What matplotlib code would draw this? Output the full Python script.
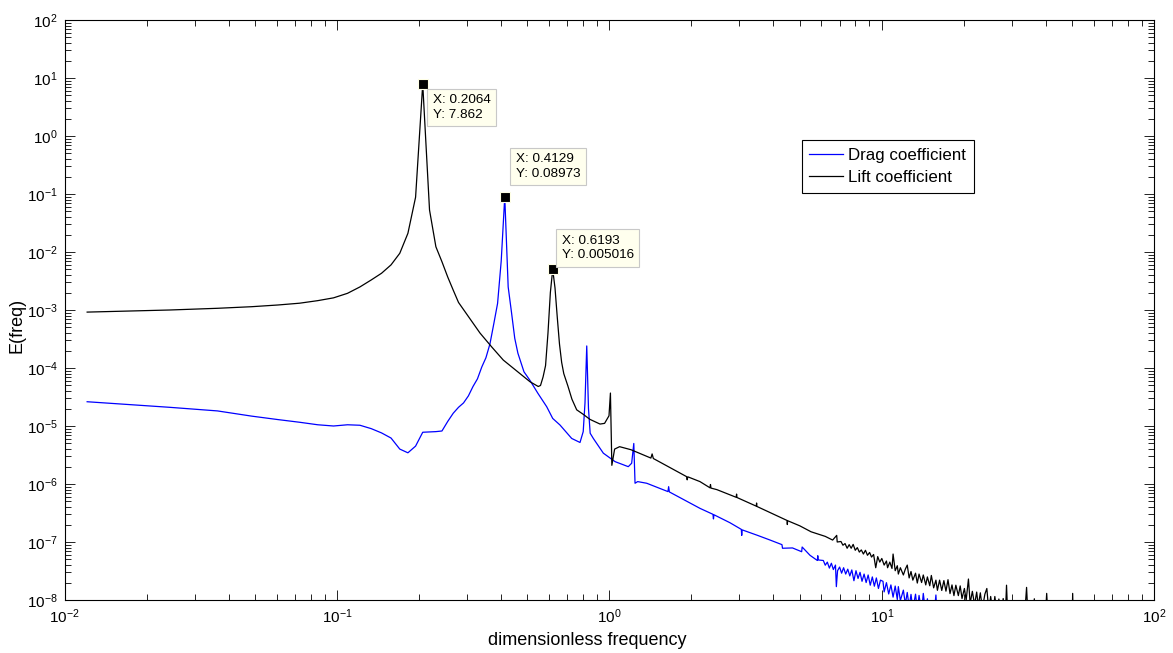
import matplotlib
matplotlib.use('Agg')
import matplotlib.pyplot as plt
from matplotlib.ticker import FixedLocator, NullFormatter, LogFormatterSciNotation

plt.rcParams['font.family'] = ['Liberation Sans', 'DejaVu Sans']
plt.rcParams['mathtext.default'] = 'regular'
plt.rcParams['axes.unicode_minus'] = False

# lift coefficient spectrum (black)
lift_freq = [0.0121, 0.0243, 0.0364, 0.0486, 0.0607, 0.0729, 0.0850, 0.0971, 0.1093, 0.1214,
             0.1336, 0.1457, 0.1579, 0.1700, 0.1821, 0.1943, 0.2064, 0.2186, 0.2307, 0.2428,
             0.2550, 0.2671, 0.2793, 0.3036, 0.3350, 0.3700, 0.4078, 0.4500, 0.5110, 0.5480,
             0.5586, 0.5708, 0.5829, 0.5950, 0.6071, 0.6193, 0.6314, 0.6436, 0.6557, 0.6679,
             0.6800, 0.7040, 0.7285, 0.7585, 0.8000, 0.8487, 0.9237, 0.9600, 0.9966, 1.0087,
             1.0209, 1.0451, 1.0900, 1.2000, 1.4200, 1.4350, 1.4500, 1.9200, 1.9300, 1.9400,
             2.1500, 2.3400, 2.3500, 2.3600, 2.4800, 2.9200, 2.9300, 2.9400, 3.4600, 3.4700,
             3.4800, 4.4900, 4.5000, 4.5100, 5.0000, 5.5000, 6.2000, 6.6000, 6.8300, 6.8600,
             7.08, 7.20, 7.33, 7.46, 7.59, 7.72, 7.85, 7.99, 8.13, 8.27,
             8.41, 8.56, 8.71, 8.86, 9.02, 9.17, 9.33, 9.50, 9.66, 9.83,
             10.0, 10.2, 10.4, 10.5, 10.7, 10.9, 11.0, 11.2, 11.4, 11.5,
             11.7, 12.0, 12.2, 12.4, 12.6, 12.8, 13.0, 13.3, 13.5, 13.7,
             14.0, 14.2, 14.5, 14.7, 15.0, 15.2, 15.5, 15.8, 16.0, 16.3,
             16.6, 16.9, 17.2, 17.5, 17.8, 18.1, 18.4, 18.7, 19.1, 19.4,
             19.7, 20.1, 20.4, 20.8, 21.1, 21.5, 21.9, 22.3, 22.6, 23.0,
             23.4, 23.9, 24.3, 24.7, 25.1, 25.6, 26.0, 26.5, 26.9, 27.4,
             27.9, 28.4, 28.7, 29.0, 29.5, 30.0, 30.5, 31.1, 31.6, 32.2,
             32.7, 33.3, 34.0, 34.5, 35.1, 35.7, 36.3, 36.9, 37.6, 38.2,
             38.9, 39.6, 40.3, 41.0, 45.0, 49.8, 50.2, 50.6, 60.0]
lift_E = [9.2e-4, 1.0e-3, 1.07e-3, 1.14e-3, 1.22e-3, 1.31e-3, 1.45e-3, 1.62e-3, 1.94e-3, 2.5e-3,
          3.3e-3, 4.3e-3, 6.0e-3, 9.5e-3, 0.021, 0.088, 7.862, 0.053, 0.0123, 6.8e-3,
          3.7e-3, 2.2e-3, 1.35e-3, 7.7e-4, 4.0e-4, 2.3e-4, 1.37e-4, 9.4e-5, 5.8e-5, 4.8e-5,
          5.0e-5, 7.0e-5, 1.1e-4, 4.0e-4, 2.0e-3, 5.016e-3, 2.4e-3, 7.5e-4, 2.6e-4, 1.25e-4,
          8.0e-5, 4.9e-5, 2.9e-5, 1.9e-5, 1.6e-5, 1.3e-5, 1.08e-5, 1.11e-5, 1.5e-5, 3.7e-5,
          2.1e-6, 4.0e-6, 4.4e-6, 3.9e-6, 2.8e-6, 3.3e-6, 2.75e-6, 1.34e-6, 1.18e-6, 1.33e-6,
          1.10e-6, 8.6e-7, 9.8e-7, 8.5e-7, 8.0e-7, 5.9e-7, 6.7e-7, 5.85e-7, 4.15e-7, 4.7e-7,
          4.1e-7, 2.35e-7, 2.0e-7, 2.33e-7, 1.9e-7, 1.5e-7, 1.25e-7, 1.08e-7, 1.3e-7, 1.0e-7,
          1.02e-7, 8.8e-8, 9.4e-8, 7.8e-8, 9.0e-8, 7.8e-8, 9.1e-8, 7.2e-8, 8.0e-8, 6.7e-8,
          7.3e-8, 6.2e-8, 7.2e-8, 5.9e-8, 6.6e-8, 5.5e-8, 6.1e-8, 3.6e-8, 5.6e-8, 4.5e-8,
          5.2e-8, 4.0e-8, 4.7e-8, 3.6e-8, 4.5e-8, 3.5e-8, 6.2e-8, 3.2e-8, 3.9e-8, 2.8e-8,
          3.6e-8, 2.7e-8, 3.4e-8, 4.0e-8, 2.4e-8, 3.1e-8, 2.2e-8, 2.9e-8, 1.96e-8, 2.8e-8,
          2.0e-8, 2.7e-8, 1.82e-8, 2.5e-8, 1.76e-8, 2.65e-8, 1.62e-8, 2.2e-8, 1.47e-8, 2.2e-8,
          1.46e-8, 2.16e-8, 1.42e-8, 2.24e-8, 1.29e-8, 1.82e-8, 1.19e-8, 1.80e-8, 1.19e-8, 1.75e-8,
          1.06e-8, 1.58e-8, 9.9e-9, 2.3e-8, 8.8e-9, 1.41e-8, 8.3e-9, 1.37e-8, 7.9e-9, 1.33e-8,
          7.1e-9, 1.26e-8, 1.58e-8, 6.5e-9, 1.15e-8, 6.0e-9, 1.15e-8, 5.6e-9, 1.04e-8, 5.5e-9,
          1.06e-8, 5.1e-9, 1.8e-8, 5.1e-9, 9.6e-9, 4.7e-9, 9.4e-9, 4.5e-9, 9.1e-9, 4.4e-9,
          8.7e-9, 4.1e-9, 1.65e-8, 3.9e-9, 7.8e-9, 3.7e-9, 1.05e-8, 3.5e-9, 7.0e-9, 3.3e-9,
          6.8e-9, 3.2e-9, 1.3e-8, 3.0e-9, 2.0e-9, 2.0e-9, 1.3e-8, 2.0e-9, 2.0e-9]

# drag coefficient spectrum (blue)
drag_freq = [0.0121, 0.0243, 0.0364, 0.0486, 0.0607, 0.0729, 0.0850, 0.0971, 0.1093, 0.1214,
             0.1336, 0.1457, 0.1579, 0.1700, 0.1821, 0.1943, 0.2064, 0.2186, 0.2307, 0.2428,
             0.2550, 0.2671, 0.2793, 0.2914, 0.3036, 0.3157, 0.3278, 0.3400, 0.3521, 0.3643,
             0.3764, 0.3886, 0.4007, 0.4129, 0.4250, 0.4371, 0.4493, 0.4614, 0.4857, 0.5100,
             0.5464, 0.5886, 0.6193, 0.6586, 0.7271, 0.7800, 0.8014, 0.8136, 0.8257, 0.8379,
             0.8500, 0.8730, 0.9500, 1.0490, 1.1730, 1.2070, 1.2290, 1.2420, 1.2700, 1.3710,
             1.6400, 1.6500, 1.6600, 1.8430, 2.1510, 2.4000, 2.4100, 2.4200, 2.7700, 3.0500,
             3.0600, 3.0700, 3.5000, 3.8900, 4.3000, 4.3200, 4.7000, 5.0800, 5.1000, 5.4500,
             5.8000, 5.8200, 5.8400,
             6.10, 6.20, 6.31, 6.42, 6.53, 6.64, 6.76, 6.81, 6.88, 7.00,
             7.12, 7.24, 7.37, 7.50, 7.63, 7.76, 7.90, 8.04, 8.18, 8.32,
             8.46, 8.61, 8.76, 8.91, 9.07, 9.23, 9.39, 9.55, 9.72, 9.89,
             10.1, 10.2, 10.4, 10.6, 10.8, 11.0, 11.2, 11.4, 11.5, 11.7,
             12.0, 12.2, 12.4, 12.6, 12.8, 13.0, 13.3, 13.5, 13.7, 14.0,
             14.2, 14.5, 14.7, 15.0, 15.2, 15.5, 15.8, 16.0, 16.3, 16.6,
             17.0, 18.0, 20.0, 40.0]
drag_E = [2.62e-5, 2.1e-5, 1.82e-5, 1.48e-5, 1.29e-5, 1.16e-5, 1.05e-5, 1.0e-5, 1.05e-5, 1.03e-5,
          9.0e-6, 7.6e-6, 6.2e-6, 4.0e-6, 3.45e-6, 4.5e-6, 7.8e-6, 7.9e-6, 8.0e-6, 8.2e-6,
          1.2e-5, 1.66e-5, 2.1e-5, 2.5e-5, 3.3e-5, 4.8e-5, 6.5e-5, 1.04e-4, 1.5e-4, 2.6e-4,
          5.8e-4, 1.3e-3, 7.0e-3, 8.973e-2, 2.5e-3, 9.1e-4, 3.25e-4, 1.8e-4, 8.6e-5, 6.2e-5,
          3.66e-5, 2.15e-5, 1.35e-5, 1.04e-5, 6.1e-6, 5.2e-6, 8.0e-6, 2.5e-5, 2.4e-4, 2.0e-5,
          7.5e-6, 6.1e-6, 3.4e-6, 2.43e-6, 1.99e-6, 2.28e-6, 5.0e-6, 1.03e-6, 1.1e-6, 1.03e-6,
          7.4e-7, 9.0e-7, 7.3e-7, 5.6e-7, 3.8e-7, 3.0e-7, 2.5e-7, 2.95e-7, 2.15e-7, 1.65e-7,
          1.3e-7, 1.62e-7, 1.3e-7, 1.08e-7, 9.0e-8, 7.8e-8, 7.9e-8, 6.8e-8, 8.2e-8, 5.9e-8,
          4.8e-8, 5.8e-8, 4.9e-8,
          4.8e-8, 3.98e-8, 4.5e-8, 3.55e-8, 4.3e-8, 3.35e-8, 4.0e-8, 1.7e-8, 3.2e-8, 3.7e-8,
          2.9e-8, 3.6e-8, 2.8e-8, 3.4e-8, 2.6e-8, 3.3e-8, 2.15e-8, 3.2e-8, 2.35e-8, 3.0e-8,
          2.1e-8, 2.8e-8, 2.0e-8, 2.7e-8, 1.8e-8, 2.5e-8, 1.73e-8, 2.4e-8, 1.58e-8, 2.2e-8,
          2.1e-8, 1.38e-8, 1.99e-8, 1.27e-8, 1.82e-8, 1.12e-8, 1.74e-8, 1.02e-8, 1.7e-8, 9.8e-9,
          1.48e-8, 8.5e-9, 1.35e-8, 7.6e-9, 1.25e-8, 7.0e-9, 1.26e-8, 6.6e-9, 1.2e-8, 6.3e-9,
          1.3e-8, 5.8e-9, 1.05e-8, 5.0e-9, 9.5e-9, 4.8e-9, 1.22e-8, 4.5e-9, 8.5e-9, 4.2e-9,
          7.5e-9, 3.5e-9, 3.0e-9, 1.0e-9]

# data tips
tip_x = [0.2064, 0.4129, 0.6193]
tip_y = [7.862, 0.08973, 0.005016]
tip_offsets = [(10, -10), (11, 17), (9, 8)]   # pixels
tip_va = ['top', 'bottom', 'bottom']

x_decades = [1e-2, 1e-1, 1e0, 1e1, 1e2]
y_decades = [1e-8, 1e-7, 1e-6, 1e-5, 1e-4, 1e-3, 1e-2, 1e-1, 1e0, 1e1, 1e2]

fig = plt.figure(figsize=(11.73, 6.53), dpi=100)
ax = fig.add_axes([64.6 / 1173, 53 / 653, 1089.6 / 1173, 580 / 653])

ax.loglog(drag_freq, drag_E, color='#0000FF', lw=0.9, label='Drag coefficient')
ax.loglog(lift_freq, lift_E, color='black', lw=0.9, label='Lift coefficient')

ax.set_xlim(1e-2, 1e2)
ax.set_ylim(1e-8, 1e2)

for axis, dec in [(ax.xaxis, x_decades), (ax.yaxis, y_decades)]:
    axis.set_major_locator(FixedLocator(dec))
    axis.set_major_formatter(LogFormatterSciNotation())
    axis.set_minor_locator(FixedLocator([d * k for d in dec[:-1] for k in range(2, 10)]))
    axis.set_minor_formatter(NullFormatter())
ax.tick_params(which='both', direction='in', top=True, right=True, labelsize=11, width=0.6)
ax.tick_params(which='major', length=7, pad=5)
ax.tick_params(which='minor', length=4)
for s in ax.spines.values():
    s.set_linewidth(0.8)

ax.set_xlabel('dimensionless frequency', fontsize=13)
ax.set_ylabel('E(freq)', fontsize=13)
ax.xaxis.set_label_coords(0.48, -0.056)
ax.yaxis.set_label_coords(-0.036, 0.474)

ax.plot(tip_x, tip_y, 's', ms=6.5, mfc='black', mec='#FFFFE6', mew=0.8, zorder=5)
for x, y, off, va in zip(tip_x, tip_y, tip_offsets, tip_va):
    ax.annotate('X: %.4g\nY: %.4g' % (x, y), xy=(x, y), xytext=off, textcoords='offset pixels',
                ha='left', va=va, fontsize=9.7, linespacing=1.3, zorder=6,
                bbox=dict(boxstyle='square,pad=0.4', fc='#FFFFEE', ec='#C8C8C8', lw=0.8))

leg = ax.legend(loc='upper left', bbox_to_anchor=(0.6765, 0.7931), fontsize=12.2,
                frameon=True, fancybox=False, edgecolor='black', framealpha=1,
                handlelength=2.0, handletextpad=0.3, borderpad=0.45, labelspacing=0.45,
                borderaxespad=0)
leg.get_frame().set_linewidth(0.8)

fig.savefig('out.png', dpi=100)
